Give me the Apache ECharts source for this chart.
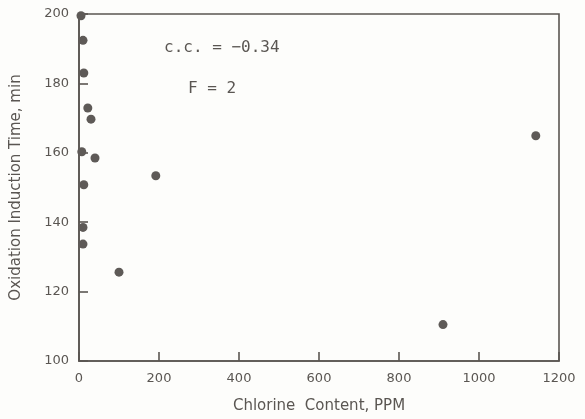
<!DOCTYPE html>
<html>
<head>
<meta charset="utf-8">
<script src="https://cdn.jsdelivr.net/npm/echarts@6/dist/echarts.min.js"></script>
<style>html,body{margin:0;padding:0;background:#fdfdfb;}#c{width:585px;height:419px;}</style>
</head>
<body>
<div id="c"></div>
<script>
const chlorinePPM = [5, 10, 12, 22, 30, 7, 40, 12, 10, 10, 100, 192, 910, 1142];
const inductionTime = [199.5, 192.4, 183, 172.9, 169.7, 160.3, 158.5, 150.8, 138.5, 133.7, 125.6, 153.4, 110.5, 164.9];
const xTicks = [0, 200, 400, 600, 800, 1000, 1200];
const yTicks = [100, 120, 140, 160, 180, 200];
const annotations = ['c.c. = \u22120.34', 'F = 2'];

const points = chlorinePPM.map((x, i) => [x, inductionTime[i]]);
const font = '"DejaVu Sans", sans-serif';
const mono = '"DejaVu Sans Mono", monospace';
const ink = '#5a5652';

const chart = echarts.init(document.getElementById('c'), null, {renderer: 'canvas'});
chart.setOption({
  backgroundColor: '#fdfdfb',
  animation: false,
  grid: {left: 79, right: 26, top: 14, bottom: 57, show: true, borderColor: ink, borderWidth: 1.6, backgroundColor: 'transparent'},
  xAxis: {
    type: 'value', min: 0, max: 1200, interval: 200,
    name: 'Chlorine  Content, PPM', nameLocation: 'middle', nameGap: 38,
    nameTextStyle: {color: ink, fontSize: 15, fontFamily: font},
    axisLine: {show: true, lineStyle: {color: ink, width: 1.6}},
    axisTick: {show: true, inside: true, length: 9, lineStyle: {color: ink, width: 1.6}},
    axisLabel: {color: ink, fontSize: 13, fontFamily: font, margin: 11,
      formatter: v => xTicks.includes(v) ? String(v) : ''},
    splitLine: {show: false}
  },
  yAxis: {
    type: 'value', min: 100, max: 200, interval: 20,
    name: 'Oxidation Induction Time, min', nameLocation: 'middle', nameGap: 55,
    nameTextStyle: {color: ink, fontSize: 15, fontFamily: font},
    axisLine: {show: true, lineStyle: {color: ink, width: 1.6}},
    axisTick: {show: true, inside: true, length: 9, lineStyle: {color: ink, width: 1.6}},
    axisLabel: {color: ink, fontSize: 13, fontFamily: font, margin: 10,
      formatter: v => yTicks.includes(v) ? String(v) : ''},
    splitLine: {show: false}
  },
  graphic: [
    {type: 'text', left: 164, top: 40, style: {text: annotations[0], fill: ink, font: '16px ' + mono}},
    {type: 'text', left: 188, top: 81, style: {text: annotations[1], fill: ink, font: '16px ' + mono}}
  ],
  series: [{
    type: 'scatter', data: points, symbol: 'circle', symbolSize: 9,
    itemStyle: {color: '#5e5a57', opacity: 1},
    clip: false
  }]
});
</script>
</body>
</html>
